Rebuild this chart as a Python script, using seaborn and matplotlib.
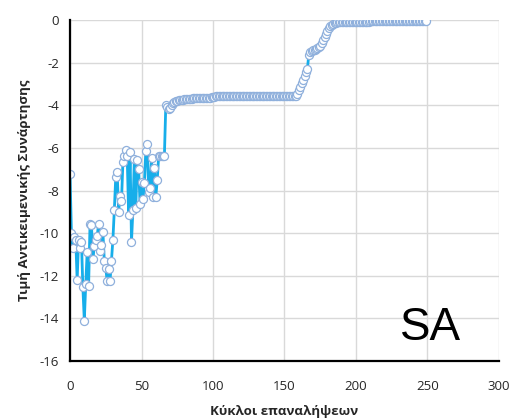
import matplotlib
matplotlib.use("Agg")
import matplotlib.pyplot as plt
import seaborn as sns
import pandas as pd

# Objective value per iteration
phase_random = [
    -7.2, -10.0, -10.7, -10.2, -10.3, -12.2, -10.3, -10.7, -10.4, -12.55,
    -14.1, -12.4, -10.9, -12.5, -9.55, -9.6, -11.2, -10.6, -10.3, -10.15,
    -9.55, -10.85, -10.55, -9.95, -11.3, -11.65, -12.25, -11.7, -12.25, -11.3,
    -10.3, -8.9, -7.35, -7.15, -9.0, -8.25, -8.5, -6.65, -6.4, -6.1,
    -6.4, -9.15, -6.2, -10.4, -8.9, -6.5, -8.8, -6.55, -7.0, -8.65,
    -7.6, -8.4, -7.65, -6.15, -5.8, -8.05, -7.9, -6.45, -8.3, -6.95,
    -8.3, -7.5, -6.4, -6.4, -6.38, -6.38, -6.38,
]
phase_first_plateau = [
    -3.97, -4.10, -4.15, -4.12, -4.00, -3.90, -3.82, -3.79, -3.78, -3.77,
    -3.76, -3.76, -3.75, -3.72, -3.70, -3.69, -3.69, -3.68, -3.68, -3.67,
    -3.67, -3.67, -3.66, -3.66, -3.66, -3.66, -3.65, -3.65, -3.65, -3.65,
    -3.64, -3.64, -3.63, -3.62, -3.60,
]
phase_second_plateau = [
    -3.58, -3.58, -3.58, -3.58, -3.58, -3.58, -3.58, -3.58, -3.58, -3.58,
    -3.58, -3.58, -3.58, -3.58, -3.58, -3.58, -3.58, -3.58, -3.58, -3.58,
    -3.58, -3.58, -3.58, -3.58, -3.58, -3.58, -3.58, -3.58, -3.58, -3.57,
    -3.57, -3.57, -3.57, -3.57, -3.57, -3.57, -3.57, -3.57, -3.57, -3.57,
    -3.57, -3.57, -3.57, -3.57, -3.57, -3.57, -3.57, -3.57, -3.57, -3.57,
    -3.57, -3.57, -3.57, -3.57, -3.57, -3.57, -3.57,
]
phase_climb = [
    -3.45, -3.30, -3.12, -2.95, -2.80, -2.62, -2.45, -2.30, -1.62, -1.50,
    -1.45, -1.42, -1.40, -1.37, -1.33, -1.28, -1.20, -1.08, -0.95, -0.80,
    -0.65, -0.50, -0.38, -0.28, -0.22, -0.17, -0.14, -0.12, -0.10, -0.09,
    -0.08,
]
phase_final = [
    -0.07, -0.07, -0.07, -0.07, -0.07, -0.07, -0.07, -0.07, -0.07, -0.07,
    -0.07, -0.07, -0.07, -0.07, -0.07, -0.07, -0.07, -0.07, -0.07, -0.07,
    -0.06, -0.06, -0.06, -0.06, -0.06, -0.06, -0.06, -0.06, -0.06, -0.06,
    -0.06, -0.06, -0.06, -0.06, -0.06, -0.06, -0.06, -0.06, -0.06, -0.06,
    -0.05, -0.05, -0.05, -0.05, -0.05, -0.05, -0.05, -0.05, -0.05, -0.05,
    -0.05, -0.05, -0.05, -0.05, -0.05, -0.05, -0.05, -0.04, -0.04, -0.03,
]

values = phase_random + phase_first_plateau + phase_second_plateau + phase_climb + phase_final
iterations = list(range(len(values)))

x_ticks = [0, 50, 100, 150, 200, 250, 300]
y_ticks = [0, -2, -4, -6, -8, -10, -12, -14, -16]
x_label = "Κύκλοι επαναλήψεων"
y_label = "Τιμή Αντικειμενικής Συνάρτησης"
annotation = "SA"

df = pd.DataFrame({"iter": iterations, "value": values})

sns.set_theme(style="white")
plt.rcParams["font.family"] = ["Open Sans", "DejaVu Sans"]

fig = plt.figure(figsize=(5.11, 4.20), dpi=100)
ax = fig.add_axes([0.137, 0.1405, 0.8395, 0.8115])

sns.lineplot(data=df, x="iter", y="value", ax=ax, color="#17aeea",
             linewidth=2.0, marker="o", markersize=5.8,
             markerfacecolor="white", markeredgecolor="#8fb0dc",
             markeredgewidth=0.9, zorder=3)

ax.set_xlim(0, 300)
ax.set_ylim(-16, 0)
ax.set_xticks(x_ticks)
ax.set_yticks(y_ticks)
ax.set_xticklabels([str(t) for t in x_ticks])
ax.set_yticklabels([str(t) for t in y_ticks])
ax.grid(True, color="#d9d9d9", linewidth=1.0, zorder=0)
ax.set_axisbelow(True)

for side in ("top", "right"):
    ax.spines[side].set_visible(False)
for side in ("left", "bottom"):
    ax.spines[side].set_color("black")
    ax.spines[side].set_linewidth(1.6)
    ax.spines[side].set_zorder(4)

ax.tick_params(axis="both", direction="inout", length=6, width=1.5,
               color="black", labelsize=9.5, labelcolor="#262626")
ax.tick_params(axis="x", pad=11)
ax.tick_params(axis="y", pad=5)

ax.set_xlabel(x_label, fontsize=9.5, fontweight="bold", color="#262626", labelpad=8)
ax.set_ylabel(y_label, fontsize=9.5, fontweight="bold", color="#262626", labelpad=6)

ax.text(231, -15.0, annotation, fontsize=33, family="Liberation Sans",
        ha="left", va="baseline", color="black")

fig.savefig("out.png", dpi=100)
